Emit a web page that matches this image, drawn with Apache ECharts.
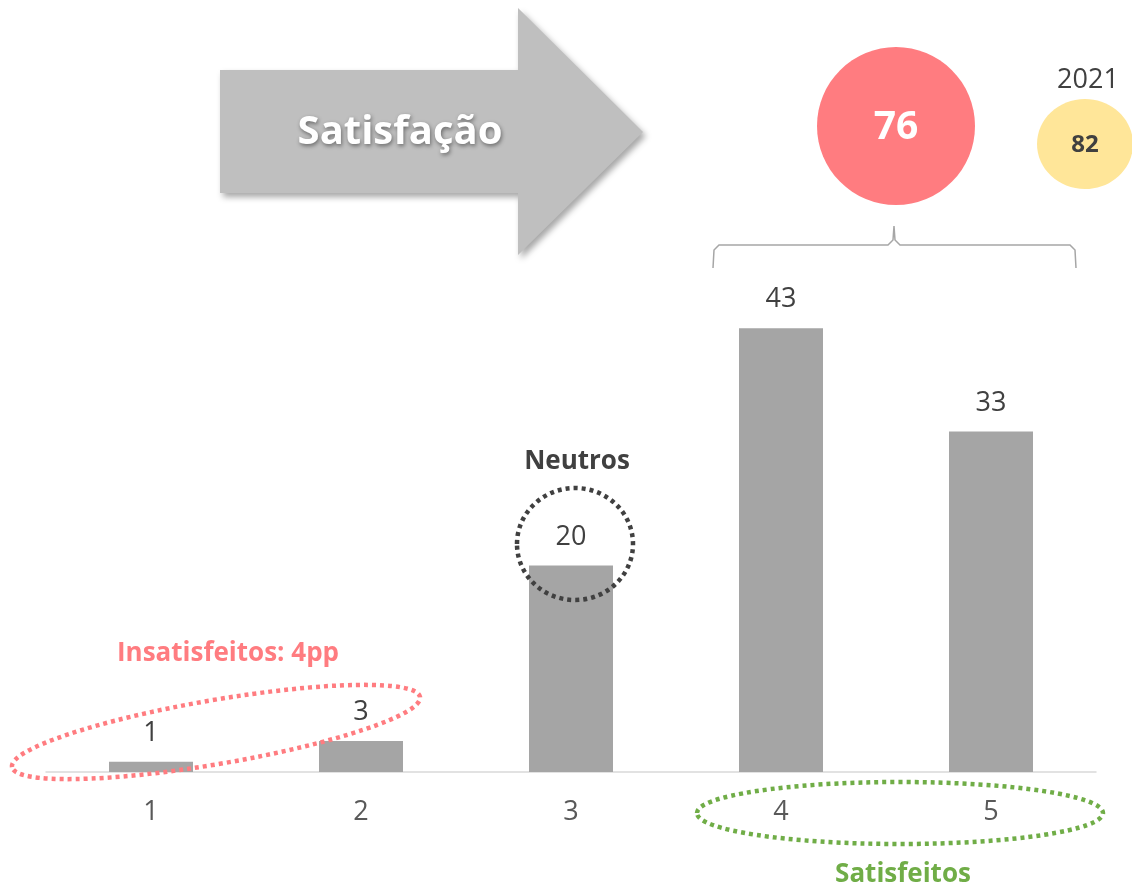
<!DOCTYPE html>
<html>
<head>
<meta charset="utf-8">
<script src="https://cdn.jsdelivr.net/npm/echarts@6/dist/echarts.min.js"></script>
<style>
  html, body { margin: 0; padding: 0; background: #fff; }
  #chart { width: 1132px; height: 887px; }
</style>
</head>
<body>
<div id="chart"></div>
<script>
// scale categories and share of answers (%)
const categories = ['1', '2', '3', '4', '5']
const shares = [1, 3, 20, 43, 33]

// summary values
const satisfiedTotal = 76
const previousYear = '2021'
const previousTotal = 82

const FONT = '"Open Sans", Lato, sans-serif'
const DARK = '#404040'
const PINK = '#ff7c80'
const GREEN = '#70ad47'

const chart = echarts.init(document.getElementById('chart'))

const option = {
  backgroundColor: '#fff',
  animation: false,
  grid: { left: 46, right: 36, top: 256, bottom: 115 },
  xAxis: {
    type: 'category',
    data: categories,
    axisLine: { lineStyle: { color: '#d9d9d9', width: 1.5 } },
    axisTick: { show: false },
    axisLabel: { color: '#595959', fontSize: 27, fontFamily: FONT, margin: 27 },
  },
  yAxis: {
    type: 'value',
    min: 0,
    max: 50,
    show: false,
  },
  series: [{
    type: 'bar',
    data: shares,
    barWidth: 84,
    itemStyle: { color: '#a5a5a5' },
    label: {
      show: true,
      position: 'top',
      distance: 15,
      color: DARK,
      fontSize: 27,
      fontFamily: FONT,
    },
  }],
  graphic: [
    // big arrow
    {
      type: 'polygon',
      shape: {
        points: [[220, 70], [518, 70], [518, 8], [643, 132], [518, 255], [518, 193], [220, 193]],
      },
      style: {
        fill: '#bfbfbf',
        shadowColor: 'rgba(0,0,0,0.35)',
        shadowBlur: 6,
        shadowOffsetX: 3,
        shadowOffsetY: 4,
      },
    },
    {
      type: 'text',
      x: 400, y: 133,
      style: {
        text: 'Satisfação',
        fill: '#fff',
        font: 'bold 40px ' + FONT,
        align: 'center',
        verticalAlign: 'middle',
        textShadowColor: 'rgba(0,0,0,0.45)',
        textShadowBlur: 4,
        textShadowOffsetX: 1,
        textShadowOffsetY: 2,
      },
    },
    // total circle
    {
      type: 'circle',
      shape: { cx: 896, cy: 126, r: 79 },
      style: { fill: PINK },
    },
    {
      type: 'text',
      x: 896, y: 128,
      style: {
        text: String(satisfiedTotal),
        fill: '#fff',
        font: 'bold 39px ' + FONT,
        align: 'center',
        verticalAlign: 'middle',
      },
    },
    // previous year
    {
      type: 'text',
      x: 1088, y: 80,
      style: {
        text: previousYear,
        fill: DARK,
        font: '27px ' + FONT,
        align: 'center',
        verticalAlign: 'middle',
      },
    },
    {
      type: 'ellipse',
      shape: { cx: 1085, cy: 144, rx: 48, ry: 45 },
      style: { fill: '#ffe699' },
    },
    {
      type: 'text',
      x: 1085, y: 145,
      style: {
        text: String(previousTotal),
        fill: DARK,
        font: 'bold 24px ' + FONT,
        align: 'center',
        verticalAlign: 'middle',
      },
    },
    // brace over 4 and 5
    {
      type: 'polyline',
      shape: {
        points: [[713, 268], [714, 250], [719, 245], [888, 245], [893, 240], [894, 226],
          [895, 240], [900, 245], [1070, 245], [1075, 250], [1076, 268]],
      },
      style: { stroke: '#a6a6a6', lineWidth: 1.5, fill: null },
    },
    // neutros
    {
      type: 'text',
      x: 577, y: 462,
      style: {
        text: 'Neutros',
        fill: DARK,
        font: 'bold 26px ' + FONT,
        align: 'center',
        verticalAlign: 'middle',
      },
    },
    {
      type: 'ellipse',
      z: 100,
      shape: { cx: 575, cy: 544, rx: 58, ry: 56 },
      style: { fill: null, stroke: DARK, lineWidth: 4.5, lineDash: [4, 4] },
    },
    // insatisfeitos
    {
      type: 'text',
      x: 228, y: 654,
      style: {
        text: 'Insatisfeitos: 4pp',
        fill: PINK,
        font: 'bold 26px ' + FONT,
        align: 'center',
        verticalAlign: 'middle',
      },
    },
    {
      type: 'ellipse',
      z: 100,
      x: 216, y: 732,
      rotation: 0.17,
      shape: { cx: 0, cy: 0, rx: 207, ry: 32 },
      style: { fill: null, stroke: PINK, lineWidth: 4.5, lineDash: [4, 4] },
    },
    // satisfeitos
    {
      type: 'ellipse',
      z: 100,
      shape: { cx: 900, cy: 813, rx: 203, ry: 31 },
      style: { fill: null, stroke: GREEN, lineWidth: 4.5, lineDash: [4, 4] },
    },
    {
      type: 'text',
      x: 903, y: 875,
      style: {
        text: 'Satisfeitos',
        fill: GREEN,
        font: 'bold 26px ' + FONT,
        align: 'center',
        verticalAlign: 'middle',
      },
    },
  ],
}

chart.setOption(option)
</script>
</body>
</html>
